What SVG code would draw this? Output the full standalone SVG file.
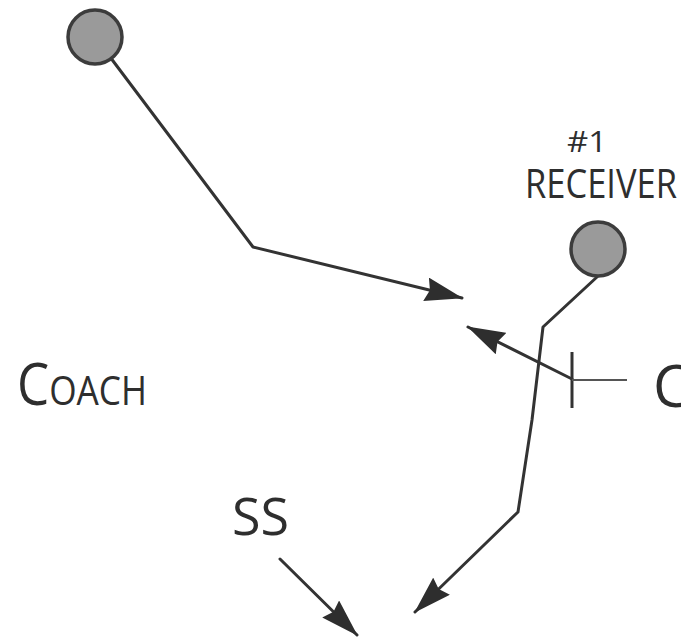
<svg xmlns="http://www.w3.org/2000/svg" width="681" height="637" viewBox="0 0 681 637">
<style>
.ln{fill:none;stroke:#333;stroke-width:3;stroke-linejoin:round;stroke-linecap:round}
.pl{fill:#9a9a9a;stroke:#3c3c3c;stroke-width:3.5}
.tx{font-family:"Open Sans","Noto Sans",sans-serif;fill:#2e2e2e}
</style>
<defs>
<marker id="ah" markerUnits="userSpaceOnUse" viewBox="0 0 38 24" markerWidth="38" markerHeight="24" refX="37" refY="12" orient="auto">
<path d="M0,0 L38,12 L0,24 L4,12 Z" fill="#2e2e2e"/>
</marker>
</defs>
<rect width="681" height="637" fill="#fff"/>
<g id="connectors">
<polyline class="ln" points="95,37 253,247 462,298" marker-end="url(#ah)"/>
<polyline class="ln" points="597,277 543,327 532,420 518,512 415,612" marker-end="url(#ah)"/>
<line class="ln" x1="572" y1="379" x2="468" y2="327" marker-end="url(#ah)"/>
<line class="ln" x1="280" y1="559" x2="357" y2="635" marker-end="url(#ah)"/>
</g>
<g id="player-top">
<circle class="pl" cx="95" cy="37" r="27"/>
</g>
<g id="receiver">
<circle class="pl" cx="598" cy="249" r="27"/>
<text class="tx" x="587" y="152" font-size="29" text-anchor="middle" textLength="40" lengthAdjust="spacingAndGlyphs">#1</text>
<text class="tx" x="525" y="198" font-size="41" textLength="152" lengthAdjust="spacingAndGlyphs">RECEIVER</text>
</g>
<g id="corner">
<line x1="572" y1="352" x2="572" y2="408" stroke="#333" stroke-width="3"/>
<line x1="572" y1="380" x2="627" y2="380" stroke="#555" stroke-width="2"/>
<text class="tx" x="653" y="407" font-size="58">C</text>
</g>
<g id="coach">
<text class="tx" x="17" y="405" textLength="130" lengthAdjust="spacingAndGlyphs"><tspan font-size="58">C</tspan><tspan font-size="40">OACH</tspan></text>
</g>
<g id="ss">
<text class="tx" x="232" y="535" font-size="52">SS</text>
</g>
</svg>
